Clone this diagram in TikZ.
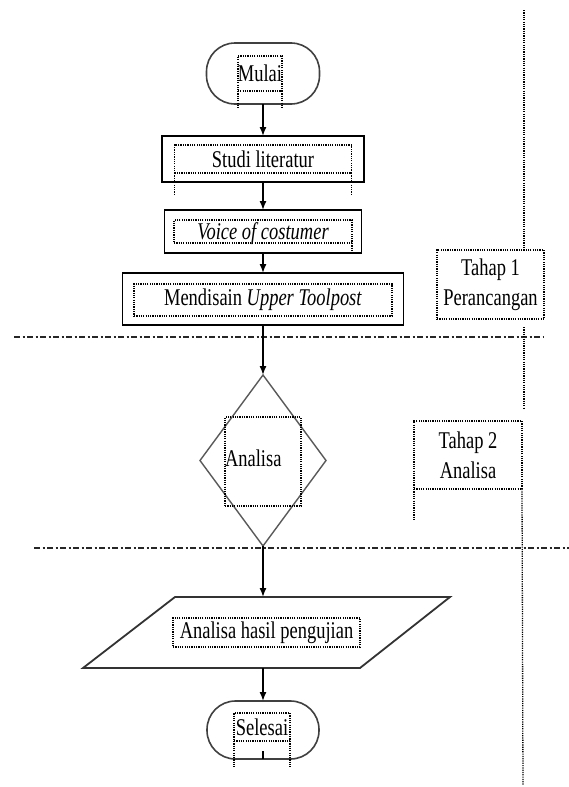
\documentclass[tikz,border=0pt]{standalone}
\usepackage{fontspec}
\setmainfont{Liberation Serif}[FakeStretch=0.77]
\usetikzlibrary{arrows.meta,shapes.geometric}
\begin{document}
\begin{tikzpicture}[x=1pt,y=-1pt,
  every node/.style={font=\fontsize{24}{30}\selectfont, inner sep=0pt, outer sep=0pt},
  procbox/.style={draw=black, line width=1.8pt},
  termbox/.style={draw=black!75, line width=1.6pt, rounded corners=28.5pt},
  txtbox/.style={draw=black, line width=1.3pt, dash pattern=on 1.2pt off 1.1pt},
  dotline/.style={black, line width=1.3pt, dash pattern=on 1.2pt off 1.1pt},
  dashdot/.style={black!85, line width=1.8pt, dash pattern=on 6pt off 2.5pt on 2pt off 2.5pt},
  arr/.style={line width=1.4pt, -{Latex[length=9pt,width=7pt]}},
  parastyle/.style={draw=black!80, line width=1.8pt},
  diastyle/.style={diamond, draw=black!65, line width=1.4pt},
]
\useasboundingbox (0,0) rectangle (569,787);

% phase separators
\coordinate (h1a) at (14,337); \coordinate (h1b) at (544,337);
\coordinate (h2a) at (34,548); \coordinate (h2b) at (569,548);
\draw[dashdot] (h1a) -- (h1b);
\draw[dashdot] (h2a) -- (h2b);

% right phase column
\coordinate (v0) at (524,10);
\node[txtbox, minimum width=107, minimum height=69, align=center] (tahap1) at (490.5,284.5) {Tahap 1\\Perancangan};
\draw[dotline] (v0) -- (tahap1.north -| v0);
\coordinate (v1) at (524,327); \coordinate (v2) at (524,409);
\draw[dotline] (v1) -- (v2);
\node[txtbox, minimum width=108, minimum height=68, align=center] (tahap2) at (468,455) {Tahap 2\\Analisa};
\draw[dotline] (tahap2.south west) -- ++(0,32);
\coordinate (v3) at (523,785);
\draw[dotline] (tahap2.south east) -- (v3);

% Mulai
\node[termbox, minimum width=113, minimum height=61] (mulai) at (263,73.5) {};
\node[txtbox, minimum width=44, minimum height=35] (mulaiT) at (260,73.5) {Mulai};
\draw[dotline] (mulaiT.south west) -- ++(0,17);
\draw[dotline] (mulaiT.south east) -- ++(0,17);

% Studi literatur
\node[procbox, minimum width=202, minimum height=46] (studi) at (263,159) {};
\node[txtbox, minimum width=177, minimum height=28] (studiT) at (263,159) {Studi literatur};
\draw[dotline] (studiT.south west) -- ++(0,21);
\draw[dotline] (studiT.south east) -- ++(0,21);

% Voice of costumer
\node[procbox, minimum width=197, minimum height=43] (voice) at (263,231.5) {};
\node[txtbox, minimum width=178, minimum height=23] (voiceT) at (263,231.5) {};
\node (voiceL) at (263,234) {\itshape Voice of costumer};
\draw[dotline] (voiceT.south east) -- ++(0,9);

% Mendisain
\node[procbox, minimum width=281, minimum height=52] (mend) at (263,299) {};
\node[txtbox, minimum width=258, minimum height=32] (mendT) at (263,300) {Mendisain \textit{Upper Toolpost}};

% Analisa diamond
\node[diastyle, minimum width=126, minimum height=171] (dia) at (263,460.5) {};
\node[txtbox, minimum width=76, minimum height=89] (diaT) at (263,461.5) {};
\node[anchor=west] (diaL) at (225,458) {Analisa};

% Parallelogram
\coordinate (p1) at (175,597); \coordinate (p2) at (450,597);
\coordinate (p3) at (360,668); \coordinate (p4) at (83,668);
\draw[parastyle] (p1) -- (p2) -- (p3) -- (p4) -- cycle;
\coordinate (ptop) at (263,597); \coordinate (pbot) at (263,668);
\node[txtbox, minimum width=187, minimum height=29] (paraT) at (266.5,632.5) {Analisa hasil pengujian};

% Selesai
\node[termbox, minimum width=112, minimum height=58] (selesai) at (263,730) {};
\node[txtbox, minimum width=56, minimum height=28] (selesaiT) at (262,727) {Selesai};
\draw[dotline] (selesaiT.south west) -- ++(0,26);
\draw[dotline] (selesaiT.south east) -- ++(0,26);
\draw[line width=1.4pt] (selesai.south) -- ++(0,-8);

% connectors
\draw[arr] (mulai.south) -- (studi.north);
\draw[arr] (studi.south) -- (voice.north);
\draw[arr] (voice.south) -- (mend.north);
\draw[arr] (mend.south) -- (dia.north);
\draw[arr] (dia.south) -- (ptop);
\draw[arr] (pbot) -- (selesai.north);
\end{tikzpicture}
\end{document}
